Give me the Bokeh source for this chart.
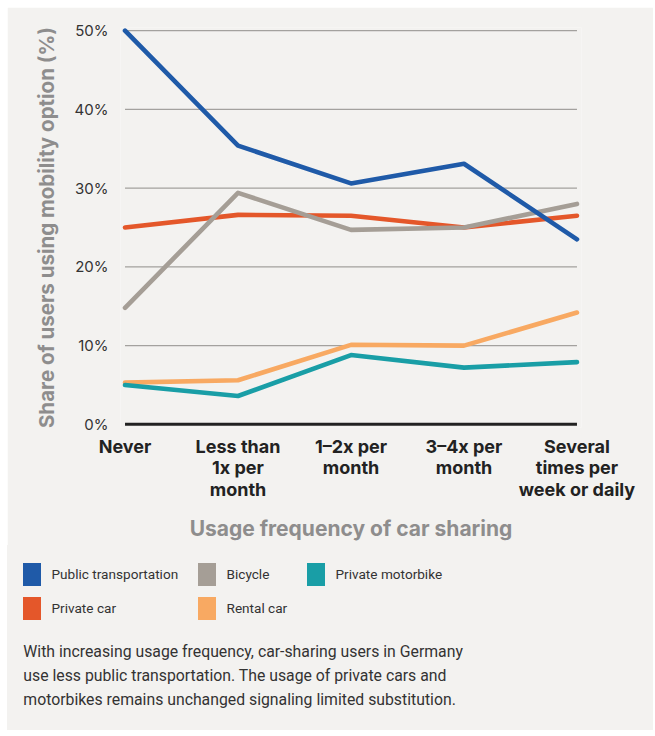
from bokeh.plotting import figure
from bokeh.layouts import column
from bokeh.models import Range1d, FixedTicker, Div
from bokeh.embed import file_html
from bokeh.resources import INLINE

# ---------------- data ----------------
categories = ["Never", "Less than\n1x per\nmonth", "1–2x per\nmonth", "3–4x per\nmonth",
              "Several\ntimes per\nweek or daily"]
public_transport = [50.0, 35.4, 30.6, 33.1, 23.5]
private_car = [25.0, 26.6, 26.5, 25.0, 26.5]
bicycle = [14.8, 29.4, 24.7, 25.0, 28.0]
private_motorbike = [5.0, 3.6, 8.8, 7.2, 7.9]
rental_car = [5.3, 5.6, 10.1, 10.0, 14.2]
y_ticks = [0, 10, 20, 30, 40, 50]
y_tick_labels = ["0%", "10%", "20%", "30%", "40%", "50%"]

legend_order = ["Public transportation", "Bicycle", "Private motorbike", "Private car", "Rental car"]
series_colors = {
    "Public transportation": "#1F5AA8",
    "Private car": "#E4572A",
    "Bicycle": "#A59E96",
    "Private motorbike": "#199EA6",
    "Rental car": "#F8A962",
}
series_values = {
    "Public transportation": public_transport,
    "Private car": private_car,
    "Bicycle": bicycle,
    "Private motorbike": private_motorbike,
    "Rental car": rental_car,
}
caption_lines = [
    "With increasing usage frequency, car-sharing users in Germany",
    "use less public transportation. The usage of private cars and",
    "motorbikes remains unchanged signaling limited substitution.",
]

BG = "#F3F2F0"
BOLD_FONT = "Inter"
TEXT_FONT = "Roboto"
xs = list(range(len(categories)))

W = 646
ML, MR, MT, MB = 113, 72, 20, 118
FRAME_H = 400
H = MT + FRAME_H + MB

p = figure(width=W, height=H, output_backend="svg", toolbar_location=None,
           x_range=Range1d(-0.04, 4.04), y_range=Range1d(-0.4, 50.4),
           min_border_left=ML, min_border_right=MR, min_border_top=MT, min_border_bottom=MB,
           background_fill_color=BG, border_fill_color=BG, outline_line_color=None)
p.margin = (7, 0, 0, 7)
p.xgrid.visible = False
p.ygrid.visible = False

# horizontal gridlines spanning first to last category
for t in y_ticks[1:]:
    p.segment(x0=xs[0], x1=xs[-1], y0=t, y1=t, line_color="#A3A19E", line_width=1.2)
p.segment(x0=xs[0], x1=xs[-1], y0=0, y1=0, line_color="#222222", line_width=3)

for name in ["Rental car", "Private motorbike", "Private car", "Bicycle", "Public transportation"]:
    p.line(xs, series_values[name], line_color=series_colors[name], line_width=4.6,
           line_join="round", line_cap="round")

# y axis
p.yaxis.ticker = FixedTicker(ticks=y_ticks)
p.yaxis.major_label_overrides = {t: l for t, l in zip(y_ticks, y_tick_labels)}
p.yaxis.axis_line_color = None
p.yaxis.major_tick_line_color = None
p.yaxis.minor_tick_line_color = None
p.yaxis.major_label_standoff = 6
p.yaxis.major_label_text_font = BOLD_FONT
p.yaxis.major_label_text_font_size = "15px"
p.yaxis.major_label_text_color = "#333333"
p.yaxis.axis_label = "Share of users using mobility option (%)"
p.yaxis.axis_label_text_font = BOLD_FONT
p.yaxis.axis_label_text_font_style = "bold"
p.yaxis.axis_label_text_font_size = "20.5px"
p.yaxis.axis_label_text_color = "#8E8D8D"
p.yaxis.axis_label_standoff = 13

# x axis
p.xaxis.ticker = FixedTicker(ticks=xs)
p.xaxis.major_label_overrides = {i: c for i, c in enumerate(categories)}
p.xaxis.axis_line_color = None
p.xaxis.major_tick_line_color = None
p.xaxis.minor_tick_line_color = None
p.xaxis.major_label_standoff = 2
p.xaxis.major_label_text_font = BOLD_FONT
p.xaxis.major_label_text_font_style = "bold"
p.xaxis.major_label_text_font_size = "18px"
p.xaxis.major_label_text_color = "#222222"
p.xaxis.major_label_text_line_height = 1.03
p.xaxis.axis_label = "Usage frequency of car sharing"
p.xaxis.axis_label_text_font = BOLD_FONT
p.xaxis.axis_label_text_font_style = "bold"
p.xaxis.axis_label_text_font_size = "21px"
p.xaxis.axis_label_text_color = "#8E8D8D"
p.xaxis.axis_label_standoff = 13

# ---------------- legend + caption (HTML panel below the chart) ----------------
DIV_H = 185
sq_left = [16, 191, 300]
sq_top = [18, 52]
parts = []
for i, name in enumerate(legend_order):
    r, c = divmod(i, 3)
    lx, ty = sq_left[c], sq_top[r]
    parts.append(
        f'<div style="position:absolute;left:{lx}px;top:{ty}px;width:18px;height:23px;'
        f'background:{series_colors[name]};"></div>'
        f'<div style="position:absolute;left:{lx + 28.5}px;top:{ty}px;height:23px;'
        f'line-height:23px;white-space:nowrap;font-family:{TEXT_FONT};font-size:13.6px;'
        f'color:#333333;">{name}</div>'
    )
parts.append(
    f'<div style="position:absolute;left:16.3px;top:95px;line-height:23.8px;'
    f'white-space:nowrap;font-family:{TEXT_FONT};font-size:15.8px;color:#333333;">'
    + "<br>".join(caption_lines) + "</div>"
)
html = (f'<div style="position:relative;width:{W}px;height:{DIV_H}px;background:{BG};'
        f'margin:0;padding:0;">' + "".join(parts) + "</div>")
div = Div(text=html, width=W, height=DIV_H, margin=(0, 0, 0, 7),
          styles={"background-color": BG})

layout = column(p, div, spacing=0)

open("out.html", "w").write(file_html(layout, INLINE))
